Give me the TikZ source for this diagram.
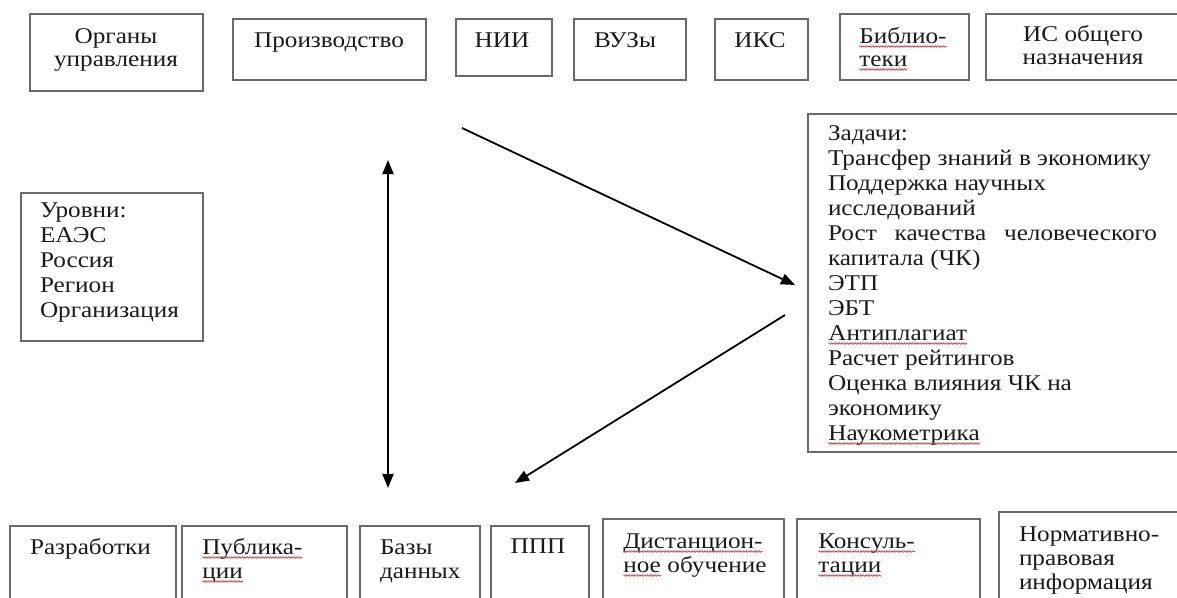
\documentclass[tikz,border=0pt]{standalone}
\usepackage{fontspec}
\setmainfont{Liberation Serif}[FakeStretch=1.12]
\usetikzlibrary{arrows.meta,decorations.pathmorphing,fit}
\definecolor{boxc}{HTML}{6A6A6A}
\definecolor{txtc}{HTML}{1A1A1A}
\definecolor{wavec}{HTML}{D03030}
\newcommand\wv[1]{\tikz[baseline=(w.base)]{\node[inner sep=0pt,outer sep=0pt,anchor=base,draw=none] (w) {#1};\draw[wavec,line width=0.6pt,decorate,decoration={snake,amplitude=0.8pt,segment length=2.6pt}] ([yshift=-3.5pt]w.base west) -- ([yshift=-3.5pt]w.base east);}}
\begin{document}
\begin{tikzpicture}[x=1pt,y=-1pt,
  box/.style={draw=boxc,line width=1.3pt,inner sep=0pt,outer sep=0pt},
  txt/.style={inner sep=0pt,outer sep=0pt,text=txtc,font=\fontsize{22.5}{23}\selectfont},
  txtb/.style={txt,font=\fontsize{22.5}{24}\selectfont},
  txtl/.style={txt,font=\fontsize{22.5}{25}\selectfont},
  arr/.style={line width=1.8pt,black},
  tip/.tip={Triangle[length=14pt,width=11pt]}]
\useasboundingbox (0,0) rectangle (1177,597);
\clip (0,0) rectangle (1177,597);
% top row boxes
\node[box,fit={(30,14)(203,91)}] (b1) {};
\node[box,fit={(233,19)(426,80)}] (b2) {};
\node[box,fit={(456,19)(552,76)}] (b3) {};
\node[box,fit={(574,19)(686,80)}] (b4) {};
\node[box,fit={(715,19)(808,80)}] (b5) {};
\node[box,fit={(840,14)(969,80)}] (b6) {};
\node[box,fit={(986,14)(1182,80)}] (b7) {};
% side boxes
\node[box,fit={(21,193)(203,341)}] (lv) {};
\node[box,fit={(808,114)(1182,452)}] (zd) {};
% bottom boxes
\node[box,fit={(10,526)(176,610)}] (c1) {};
\node[box,fit={(182,526)(347,610)}] (c2) {};
\node[box,fit={(360,526)(480,610)}] (c3) {};
\node[box,fit={(491,526)(589,610)}] (c4) {};
\node[box,fit={(603,519)(784,610)}] (c5) {};
\node[box,fit={(797,519)(980,610)}] (c6) {};
\node[box,fit={(999,512)(1185,610)}] (c7) {};
% texts top (multi-line nodes are placed by the baseline of their last line)
\node[txt,align=center,anchor=base] (t1) at (116,66) {Органы\\управления};
\node[txt,anchor=base] (t2) at (329,47) {Производство};
\node[txt,anchor=base] (t3) at (502,47) {НИИ};
\node[txt,anchor=base] (t4) at (625,47) {ВУЗы};
\node[txt,anchor=base] (t5) at (760,47) {ИКС};
\node[txt,align=left,anchor=base west] (t6) at (859,66) {\wv{Библио-}\\\wv{теки}};
\node[txt,align=center,anchor=base] (t7) at (1083,64) {ИС общего\\назначения};
% side texts
\node[txtl,align=left,anchor=base west] (tl) at (40,317) {Уровни:\\ЕАЭС\\Россия\\Регион\\Организация};
\node[txtl,align=left,anchor=base west] (tz) at (828,440) {Задачи:\\Трансфер знаний в экономику\\Поддержка научных\\исследований\\\makebox[329pt][s]{Рост качества человеческого}\\капитала (ЧК)\\ЭТП\\ЭБТ\\\wv{Антиплагиат}\\Расчет рейтингов\\Оценка влияния ЧК на\\экономику\\\wv{Наукометрика}};
% bottom texts
\node[txtb,anchor=base west] (s1) at (30,554) {Разработки};
\node[txtb,align=left,anchor=base west] (s2) at (202,578) {\wv{Публика-}\\\wv{ции}};
\node[txtb,align=left,anchor=base west] (s3) at (380,578) {Базы\\данных};
\node[txtb,anchor=base] (s4) at (538,553) {ППП};
\node[txtb,align=left,anchor=base west] (s5) at (623,572) {\wv{Дистанцион-}\\\wv{ное} обучение};
\node[txtb,align=left,anchor=base west] (s6) at (818,572) {\wv{Консуль-}\\\wv{тации}};
\node[txtb,align=left,anchor=base west] (s7) at (1019,589) {Нормативно-\\правовая\\информация};
% arrows
\coordinate (v1) at (388,160);
\coordinate (v2) at (388,488);
\coordinate (p1) at (462,128);
\coordinate (p2) at (795,285);
\coordinate (q1) at (785,315);
\coordinate (q2) at (515,483);
\draw[arr,{tip}-{tip}] (v1) -- (v2);
\draw[arr,-{tip}] (p1) -- (p2);
\draw[arr,-{tip}] (q1) -- (q2);
\end{tikzpicture}
\end{document}
